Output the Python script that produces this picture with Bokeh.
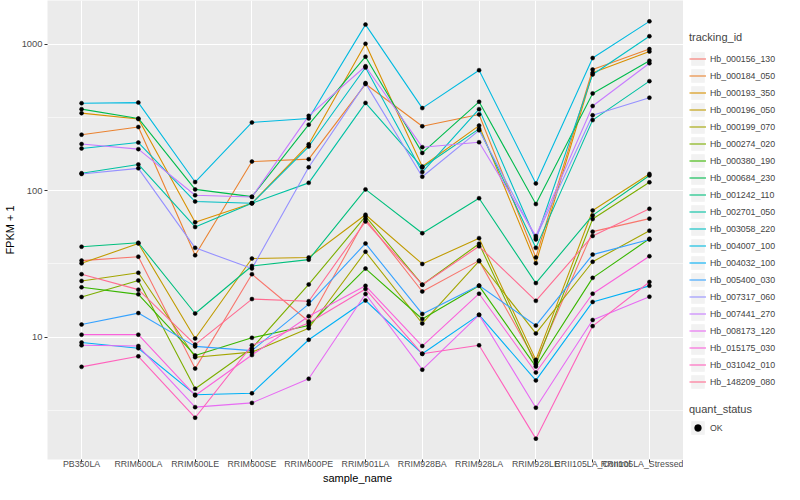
import numpy as np
from bokeh.plotting import figure
from bokeh.layouts import row, column
from bokeh.core.properties import value
from bokeh.models import (FactorRange, Range1d, FixedTicker, Legend, LegendItem,
                          ColumnDataSource, PrintfTickFormatter)
from bokeh.embed import file_html
from bokeh.resources import INLINE

samples = ["PB350LA", "RRIM600LA", "RRIM600LE", "RRIM600SE", "RRIM600PE", "RRIM901LA",
           "RRIM928BA", "RRIM928LA", "RRIM928LE", "RRII105LA_Control", "RRII105LA_Stressed"]

tracking_ids = ["Hb_000156_130", "Hb_000184_050", "Hb_000193_350", "Hb_000196_050",
                "Hb_000199_070", "Hb_000274_020", "Hb_000380_190", "Hb_000684_230",
                "Hb_001242_110", "Hb_002701_050", "Hb_003058_220", "Hb_004007_100",
                "Hb_004032_100", "Hb_005400_030", "Hb_007317_060", "Hb_007441_270",
                "Hb_008173_120", "Hb_015175_030", "Hb_031042_010", "Hb_148209_080"]

# FPKM + 1 per sample (order of `samples`)
hb_000156_130 = [33.3, 35.4, 6.1, 26.9, 12.8, 64.0, 20.5, 33.3, 6.8, 52.5, 64.4]
hb_000184_050 = [241, 272, 36.2, 158, 164, 534, 275, 331, 35.0, 671, 925]
hb_000193_350 = [338, 308, 60.8, 82, 207, 1005, 146, 278, 32.0, 637, 890]
hb_000196_050 = [31.9, 43.6, 9.8, 34.4, 35.0, 68.5, 31.6, 47.4, 7.0, 73.2, 130]
hb_000199_070 = [24.2, 27.5, 7.3, 7.9, 11.5, 38.3, 12.4, 33.0, 10.6, 32.7, 53.3]
hb_000274_020 = [18.8, 24.4, 4.45, 8.4, 22.9, 66.7, 22.8, 43.4, 6.5, 64.0, 114]
hb_000380_190 = [21.9, 19.6, 7.5, 9.9, 12.0, 29.4, 13.3, 22.4, 6.3, 25.4, 46.9]
hb_000684_230 = [360, 311, 102, 91, 282, 821, 181, 404, 81, 461, 770]
hb_001242_110 = [41.4, 44.1, 14.5, 30.6, 33.8, 102, 51.2, 88.8, 23.4, 67.8, 127]
hb_002701_050 = [131.5, 151, 56.5, 82, 113, 397, 144, 264, 40.7, 303, 559]
hb_003058_220 = [194, 213, 84.3, 82, 200, 692, 134, 360, 46.4, 621, 1132]
hb_004007_100 = [395, 399, 114.5, 292, 311, 1359, 366, 664, 112, 804, 1430]
hb_004032_100 = [9.2, 8.4, 4.05, 4.14, 9.6, 17.8, 7.7, 14.2, 5.07, 17.4, 22.4]
hb_005400_030 = [12.2, 14.6, 8.65, 8.1, 16.8, 43.6, 14.4, 22.5, 12.0, 36.6, 46.4]
hb_007317_060 = [130, 142, 40.7, 29.4, 144.5, 542, 124.5, 258, 47.6, 327, 431]
hb_007441_270 = [208, 192, 93, 90.6, 324, 706, 198, 214, 49, 378, 740]
hb_008173_120 = [8.8, 8.7, 3.33, 3.56, 5.2, 19.7, 6.0, 14.2, 3.30, 13.1, 18.9]
hb_015175_030 = [10.4, 10.4, 4.0, 7.55, 13.9, 22.4, 8.7, 19.8, 5.74, 19.8, 35.7]
hb_031042_010 = [6.27, 7.4, 2.82, 8.8, 12.5, 21.3, 7.7, 8.8, 2.03, 11.9, 23.8]
hb_148209_080 = [26.9, 21.1, 8.9, 18.2, 17.6, 61.6, 22.8, 41.7, 17.7, 49.1, 75.2]

series = [hb_000156_130, hb_000184_050, hb_000193_350, hb_000196_050, hb_000199_070,
          hb_000274_020, hb_000380_190, hb_000684_230, hb_001242_110, hb_002701_050,
          hb_003058_220, hb_004007_100, hb_004032_100, hb_005400_030, hb_007317_060,
          hb_007441_270, hb_008173_120, hb_015175_030, hb_031042_010, hb_148209_080]

colors = ["#F8766D", "#EA8331", "#D89000", "#C09B00", "#A3A500", "#7CAE00", "#39B600",
          "#00BB4E", "#00BF7D", "#00C1A3", "#00BFC4", "#00BAE0", "#00B0F6", "#35A2FF",
          "#9590FF", "#C77CFF", "#E76BF3", "#FA62DB", "#FF62BC", "#FF6C91"]

quant_levels = ["OK"]
x_title = "sample_name"

allv = np.concatenate([np.array(s, dtype=float) for s in series])
lo, hi = np.log10(allv.min()), np.log10(allv.max())
pad = 0.05 * (hi - lo)

FONT = "Liberation Sans"
TH = 13           # height of the x-title strip
H = 484 - TH      # height of the plot row
PW = 683          # main figure width

p = figure(width=PW, height=H,
           x_range=FactorRange(*samples, range_padding=0.1, range_padding_units="absolute"),
           y_axis_type="log", y_range=Range1d(10 ** (lo - pad), 10 ** (hi + pad)),
           output_backend="svg", toolbar_location=None,
           min_border_top=0, min_border_right=0, min_border_left=0, min_border_bottom=0,
           background_fill_color="#EBEBEB", border_fill_color="white", outline_line_color=None)

line_renderers = []
for tid, vals, col in zip(tracking_ids, series, colors):
    src = ColumnDataSource(dict(x=samples, y=vals))
    r = p.line("x", "y", source=src, line_color=col, line_width=1.1)
    line_renderers.append(r)

for vals in series:
    src = ColumnDataSource(dict(x=samples, y=vals))
    p.scatter("x", "y", source=src, size=4, fill_color="black", line_color="black",
              line_width=0.5)

# axes
p.yaxis.ticker = FixedTicker(ticks=[10, 100, 1000],
                             minor_ticks=[10 ** 0.5, 10 ** 1.5, 10 ** 2.5])
p.yaxis.formatter = PrintfTickFormatter(format="%d")
for ax in (p.xaxis, p.yaxis):
    ax.axis_line_color = None
    ax.major_tick_line_color = "#333333"
    ax.major_tick_out = 3
    ax.major_tick_in = 0
    ax.minor_tick_line_color = None
    ax.major_label_text_color = "#4D4D4D"
    ax.major_label_text_font = FONT
    ax.major_label_text_font_size = "8.8px"
    ax.major_label_standoff = 1
    ax.major_label_text_line_height = 1.0
    ax.axis_label_text_font = FONT
    ax.axis_label_text_font_size = "11px"
    ax.axis_label_text_font_style = "normal"
    ax.axis_label_text_color = "black"
    ax.axis_label_standoff = 1
    ax.axis_label_text_line_height = 1.0
p.xaxis.major_label_standoff = -4
p.yaxis.axis_label = "FPKM + 1"
p.yaxis.major_label_text_font_size = "9.4px"
p.yaxis.axis_label_standoff = 3

p.xgrid.grid_line_color = "white"
p.xgrid.grid_line_width = 1.1
p.ygrid.grid_line_color = "white"
p.ygrid.grid_line_width = 1.1
p.ygrid.minor_grid_line_color = "white"
p.ygrid.minor_grid_line_width = 0.55

# legend panel (frame aligned with the main frame by the row layout)
lp = figure(width=784 - PW, height=H, x_range=Range1d(0, 1), y_range=Range1d(0, 1),
            x_axis_type=None, y_axis_type=None, output_backend="svg", toolbar_location=None,
            min_border=0, outline_line_color=None, background_fill_color="white")
lp.grid.visible = False
off = [-10, -9]
bg = lp.quad(left=[-10], right=[-9], top=[-9], bottom=[-10], fill_color="#F2F2F2", line_color=None)
items = []
for tid, col in zip(tracking_ids, colors):
    lr = lp.line(x=off, y=off, line_color=col, line_width=1.1)
    items.append(LegendItem(label=tid, renderers=[bg, lr]))
pk = lp.scatter(x=[-10], y=[-10], size=4, fill_color="black", line_color="black", line_width=0.5)

common = dict(glyph_width=17, glyph_height=17, label_height=17, spacing=0,
              padding=0, margin=0, border_line_color=None, background_fill_alpha=0,
              label_text_font=FONT, label_text_font_size="8.8px", label_standoff=4,
              title_text_font=FONT, title_text_font_size="11px",
              title_text_font_style="normal")
leg1 = Legend(items=items, title="tracking_id", location=(6, 69), title_standoff=7, **common)
leg2 = Legend(items=[LegendItem(label=quant_levels[0], renderers=[bg, pk])],
              title="quant_status", location=(6, 23), title_standoff=4, **common)
lp.add_layout(leg1)
lp.add_layout(leg2)

# x-axis title strip, its frame spans the same columns as the main panel
tf = figure(width=784, height=TH, x_range=Range1d(0, 1), y_range=Range1d(0, 1),
            x_axis_type=None, y_axis_type=None, output_backend="svg", toolbar_location=None,
            min_border_left=38, min_border_right=784 - PW + 7, min_border_top=0,
            min_border_bottom=0, outline_line_color=None, background_fill_color="white")
tf.grid.visible = False
tf.text(x=[0.5], y=[0.5], text=[x_title], text_align="center", text_baseline="middle",
        text_font=value(FONT), text_font_size="11px", text_color="black")

layout = column(row(p, lp, spacing=0), tf, spacing=0)
open("out.html", "w").write(file_html(layout, INLINE))
